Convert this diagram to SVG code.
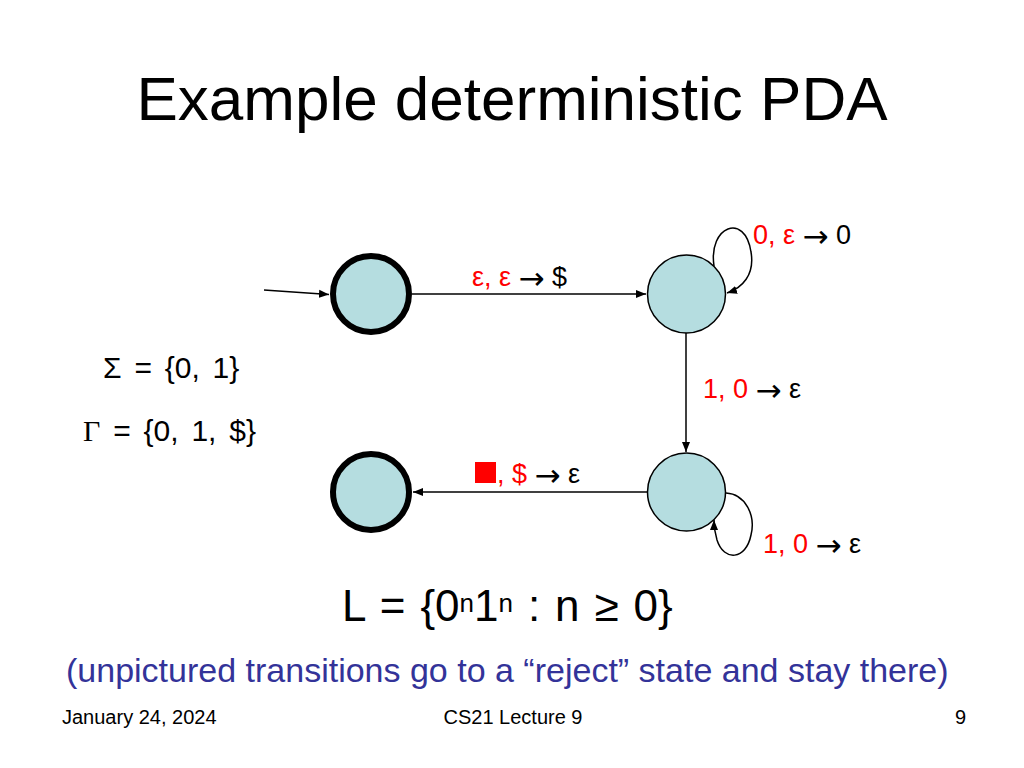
<svg xmlns="http://www.w3.org/2000/svg" width="1024" height="768" viewBox="0 0 1024 768">
<defs>
<style>
text{font-family:"Liberation Sans",Arial,sans-serif;fill:#000}
.state{fill:#b5dde0;stroke:#000;stroke-width:1.5}
.final{fill:#b5dde0;stroke:#000;stroke-width:6}
.edge{fill:none;stroke:#000;stroke-width:1.5}
.lbl{font-size:27px}
.red{fill:#ff0000}
.arr{font-family:"DejaVu Sans",sans-serif;font-size:31px}
.math{font-size:30px;word-spacing:4.5px}
</style>
<marker id="ah" viewBox="0 0 10 10" refX="10" refY="5" markerWidth="10" markerHeight="10" markerUnits="userSpaceOnUse" orient="auto">
<path d="M0,1 L10,5 L0,9 Z" fill="#000"/>
</marker>
</defs>
<rect width="1024" height="768" fill="#fff"/>
<text x="512" y="120" font-size="62" text-anchor="middle">Example deterministic PDA</text>

<g id="connectors">
<path class="edge" d="M264,290 L329,294.5" marker-end="url(#ah)"/>
<path class="edge" d="M412,294 L646,294" marker-end="url(#ah)"/>
<path class="edge" d="M714,266 C708,226 745,212 751,252 C755,275 742,288 727,293" marker-end="url(#ah)"/>
<path class="edge" d="M686,333 L686,452" marker-end="url(#ah)"/>
<path class="edge" d="M647,492 L413,492" marker-end="url(#ah)"/>
<path class="edge" d="M726,493 C745,494 756,515 751,535 C746,560 724,562 717,540 C715,533 714,527 714,520" marker-end="url(#ah)"/>
</g>

<g id="q1"><circle class="final" cx="371" cy="294" r="38"/></g>
<g id="q2"><circle class="state" cx="686.5" cy="294" r="39"/></g>
<g id="q3"><circle class="state" cx="686.5" cy="492" r="39"/></g>
<g id="q4"><circle class="final" cx="371" cy="492" r="38"/></g>

<g id="labels">
<text class="lbl" x="472" y="286"><tspan class="red">ε, ε</tspan> <tspan class="arr" dy="3">→</tspan><tspan dy="-3"> $</tspan></text>
<text class="lbl" x="753" y="244"><tspan class="red">0, ε</tspan> <tspan class="arr" dy="3">→</tspan><tspan dy="-3"> 0</tspan></text>
<text class="lbl" x="703" y="398"><tspan class="red">1, 0</tspan> <tspan class="arr" dy="3">→</tspan><tspan dy="-3"> ε</tspan></text>
<rect x="475" y="462" width="21" height="21" fill="#ff0000"/>
<text class="lbl" x="497" y="483"><tspan class="red">, $</tspan> <tspan class="arr" dy="3">→</tspan><tspan dy="-3"> ε</tspan></text>
<text class="lbl" x="763" y="553"><tspan class="red">1, 0</tspan> <tspan class="arr" dy="3">→</tspan><tspan dy="-3"> ε</tspan></text>
</g>

<text class="math" x="103" y="378">Σ = {0, 1}</text>
<text class="math" x="83" y="441"><tspan font-family="Liberation Serif, serif">Γ</tspan> = {0, 1, $}</text>

<text x="342" y="621" font-size="44" style="word-spacing:2.7px">L = {0<tspan font-size="26" dy="-9">n</tspan><tspan dy="9">1</tspan><tspan font-size="26" dy="-9">n</tspan><tspan dy="9"> : n ≥ 0}</tspan></text>

<text x="66" y="682" font-size="34" style="fill:#333399">(unpictured transitions go to a “reject” state and stay there)</text>

<text x="62" y="724" font-size="20">January 24, 2024</text>
<text x="513" y="724" font-size="20" text-anchor="middle">CS21 Lecture 9</text>
<text x="966" y="724" font-size="20" text-anchor="end">9</text>
</svg>
